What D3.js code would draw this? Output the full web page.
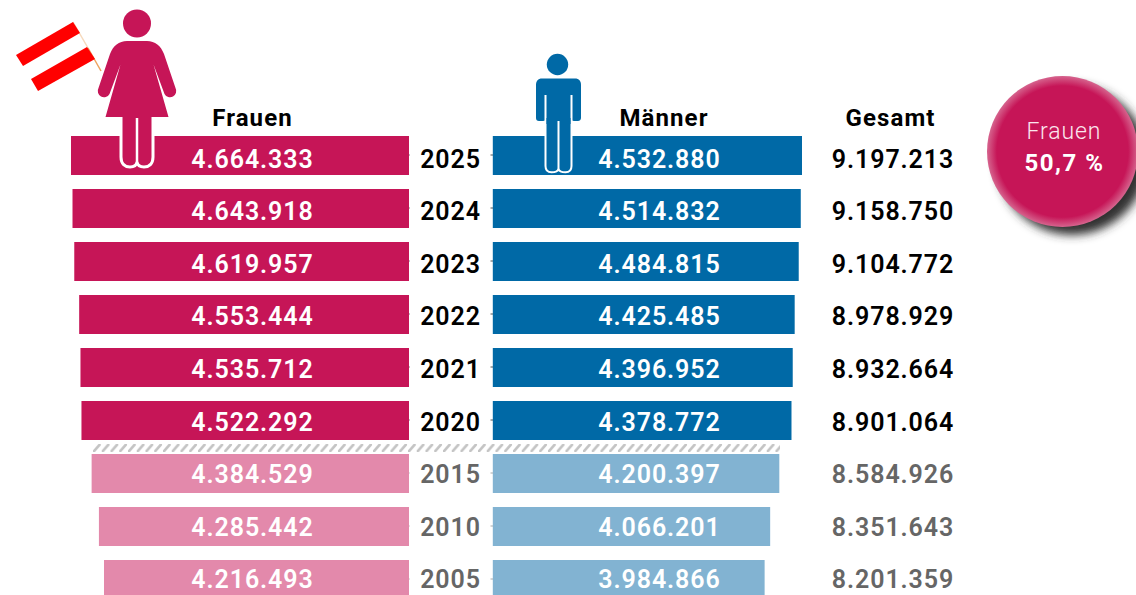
<!DOCTYPE html>
<html><head><meta charset="utf-8">
<script src="https://cdn.jsdelivr.net/npm/d3@7/dist/d3.min.js"></script>
<style>
html,body{margin:0;padding:0;background:#fff;overflow:hidden}
svg{display:block}
text{font-family:Roboto,sans-serif;font-weight:700;text-anchor:middle}
</style></head><body><div id="c"></div>
<script>
const years=["2025","2024","2023","2022","2021","2020","2015","2010","2005"];
const frauen=[4664333,4643918,4619957,4553444,4535712,4522292,4384529,4285442,4216493];
const maenner=[4532880,4514832,4484815,4425485,4396952,4378772,4200397,4066201,3984866];
const gesamt=[9197213,9158750,9104772,8978929,8932664,8901064,8584926,8351643,8201359];
const headers=["Frauen","Männer","Gesamt"];
const bubbleLabel="Frauen", bubbleValue="50,7 %";
const recent=6;
const C={f:"#C61557",m:"#0069A6",fl:"#E389AB",ml:"#82B3D2"};
const fmt=d3.format(",");
const de=n=>fmt(n).replace(/,/g,".");
const svg=d3.select("#c").append("svg").attr("width",1136).attr("height",595);
const defs=svg.append("defs");
const p=defs.append("pattern").attr("id","hatch").attr("patternUnits","userSpaceOnUse").attr("width",8.75).attr("height",8).attr("x",93).attr("y",444);
p.append("path").attr("d","M1 7.2L6.5 0.8").attr("stroke","#c4c4c4").attr("stroke-width",2.6).attr("stroke-linecap","round");
const g=defs.append("radialGradient").attr("id","ball");
g.append("stop").attr("offset","0.87").attr("stop-color","#C61557");
g.append("stop").attr("offset","1").attr("stop-color","#D6648E");
defs.append("filter").attr("id","blur").attr("x","-30%").attr("y","-30%").attr("width","160%").attr("height","160%")
  .append("feGaussianBlur").attr("stdDeviation",5);

const step=53, bandH=39;
const y=d3.scaleBand().domain(years).range([136,136+step*years.length-(step-bandH)]).paddingInner((step-bandH)/step).paddingOuter(0);
const yText=d3.scalePoint().domain(years).range([167.5,588.3]);
const xF=d3.scaleLinear().domain([78000,4664333]).range([409,71]);
const xM=d3.scaleLinear().domain([0,4532880]).range([492.8,802]);
const rows=years.map((yr,i)=>({yr,i,f:frauen[i],m:maenner[i],t:gesamt[i],old:i>=recent}));
const baseline=d=>yText(d.yr);

svg.append("rect").attr("x",93).attr("y",444).attr("width",687).attr("height",8).attr("fill","url(#hatch)");

// tick stubs
svg.append("g").selectAll("line").data(rows).join("line")
 .attr("x1",490.5).attr("x2",493).attr("y1",d=>y(d.yr)+19).attr("y2",d=>y(d.yr)+19)
 .attr("stroke",d=>d.old?"#aaa":"#555").attr("stroke-width",1);
svg.append("g").selectAll("line").data(rows).join("line")
 .attr("x1",408.5).attr("x2",410).attr("y1",d=>y(d.yr)+19).attr("y2",d=>y(d.yr)+19)
 .attr("stroke",d=>d.old?"#ccc":"#888").attr("stroke-width",1);

svg.append("g").selectAll("rect").data(rows).join("rect")
 .attr("x",d=>xF(d.f)).attr("y",d=>y(d.yr)).attr("width",d=>xF.range()[0]-xF(d.f)).attr("height",y.bandwidth())
 .attr("fill",d=>d.old?C.fl:C.f);
svg.append("g").selectAll("rect").data(rows).join("rect")
 .attr("x",xM(0)).attr("y",d=>y(d.yr)).attr("width",d=>xM(d.m)-xM(0)).attr("height",y.bandwidth())
 .attr("fill",d=>d.old?C.ml:C.m);

// flag
const flag=svg.append("g");
flag.append("path").attr("d","M73 22L88 48").attr("stroke","#F6D9BC").attr("stroke-width",1.5);
flag.append("path").attr("d","M88 48L101 71").attr("stroke","#EDA25F").attr("stroke-width",1.5);
flag.append("path").attr("d","M16 55L73 22L80 33L23 66Z").attr("fill","#FF0000");
flag.append("path").attr("d","M31 79L87 47L95 59L38 91Z").attr("fill","#FF0000");

// woman
const w=svg.append("g");
w.append("circle").attr("cx",137).attr("cy",23.5).attr("r",14).attr("fill",C.f);
w.append("path").attr("fill",C.f).attr("d","M127 41H147C155 41 161 46 164 54L175.500 88A6 6 0 0 1 164.500 94L153.500 64.500L168.500 117H105.500L120.500 64.500L109.500 94A6 6 0 0 1 98.500 88L110 54C113 46 119 41 127 41Z");
w.append("path").attr("fill",C.f).attr("stroke","#fff").attr("stroke-width",3)
 .attr("d","M121 117V157C121 164 125 167 130 167C134 167 136.500 165 137 162C137.500 165 140 167 144 167C149 167 153 164 153 157V117");
w.append("path").attr("stroke","#fff").attr("stroke-width",2.500).attr("d","M137 118V162");

// man
const m=svg.append("g");
m.append("circle").attr("cx",557.500).attr("cy",64.500).attr("r",10.700).attr("fill",C.m);
m.append("path").attr("fill",C.m).attr("d","M542 78.500H575C579 78.500 581 81 581 85V118C581 120 579.500 121 578 121H574C572 121 571 120 571 118V136H546V118C546 120 545 121 543 121H539C537 121 536 120 536 118V85C536 81 538 78.500 542 78.500Z");
m.append("path").attr("stroke","#fff").attr("stroke-width",2).attr("d","M545.500 95V121M571.500 95V121");
m.append("path").attr("fill",C.m).attr("stroke","#fff").attr("stroke-width",2)
 .attr("d","M545.500 121V166C545.500 170 547.500 172.300 551.500 172.300C555.500 172.300 558 171 558.500 169C559 171 561.500 172.300 565.500 172.300C569.500 172.300 571.500 170 571.500 166V121");
m.append("path").attr("fill",C.m).attr("d","M546.500 118H570.500V124H546.500Z");
m.append("path").attr("stroke","#fff").attr("stroke-width",2).attr("d","M558.500 121V169");

const hx=[252.5,664,890.5];
svg.append("g").selectAll("text").data(headers).join("text")
 .attr("x",(d,i)=>hx[i]).attr("y",126).attr("font-size",24).attr("fill","#000").style("letter-spacing","1.1px").text(d=>d);

const vsize=25, vs="0.9px";
const col=(x,val,fill)=>svg.append("g").selectAll("text").data(rows).join("text").attr("x",x).attr("y",baseline).attr("font-size",vsize).attr("fill",fill).style("font-weight",600).style("letter-spacing",vs).text(val);
col(252.5,d=>de(d.f),"#fff");
col(659.5,d=>de(d.m),"#fff");
col(450.5,d=>d.yr,d=>d.old?"#666":"#000");
col(893,d=>de(d.t),d=>d.old?"#666":"#000");

// bubble
svg.append("circle").attr("cx",1072).attr("cy",160).attr("r",75).attr("fill","#333").attr("filter","url(#blur)");
svg.append("circle").attr("cx",1062.500).attr("cy",151.500).attr("r",75.500).attr("fill","url(#ball)");
svg.append("text").attr("x",1064).attr("y",138.500).attr("font-size",23).attr("fill","#FBE6EE").style("font-weight",300).style("letter-spacing","0.9px").text(bubbleLabel);
svg.append("text").attr("x",1064.500).attr("y",171).attr("font-size",24).attr("fill","#fff").style("letter-spacing","1.5px").text(bubbleValue);
</script></body></html>
